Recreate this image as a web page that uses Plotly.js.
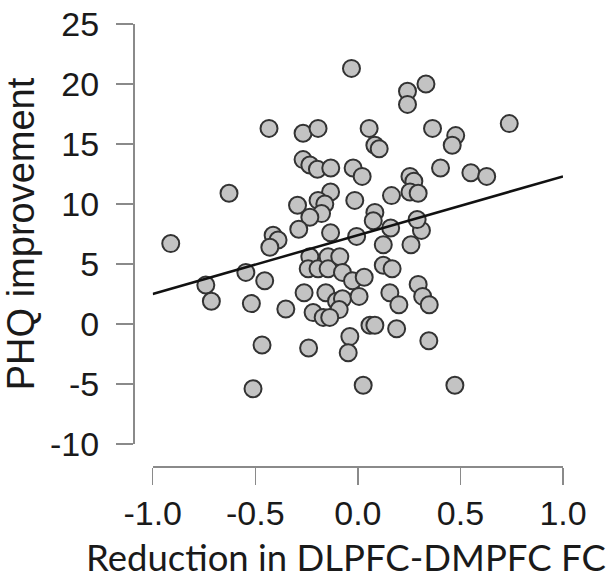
<!DOCTYPE html>
<html>
<head>
<meta charset="utf-8">
<script src="https://cdn.plot.ly/plotly-3.0.1.min.js"></script>
<style>html,body{margin:0;padding:0;background:#fff;}#chart{width:616px;height:583px;}</style>
</head>
<body>
<div id="chart"></div>
<script>
// Reduction in DLPFC-DMPFC FC (x) vs PHQ improvement (y)
const fcReduction = [
  -0.031, -0.433, -0.267, -0.194, 0.055, 0.083, 0.104, -0.267, -0.234, -0.197,
  -0.132, -0.023, 0.021, -0.628, -0.133, -0.194, -0.161, -0.177, -0.294, -0.234,
  -0.015, 0.083, 0.075, -0.288, -0.133, -0.006, -0.912, -0.413, -0.389, -0.429,
  -0.741, -0.714, -0.546, -0.454, -0.519, -0.351, -0.262, -0.234, -0.242, -0.194,
  -0.145, -0.145, -0.088, -0.075, -0.026, 0.031, -0.156, -0.104, -0.075, -0.091,
  -0.218, -0.169, -0.137, 0.006, 0.059, 0.083, -0.039, -0.047, -0.467, -0.240,
  -0.511, 0.026,
  0.310, 0.124, 0.259, 0.124, 0.167, 0.294, 0.316, 0.348, 0.156, 0.200,
  0.189, 0.346, 0.473,
  0.242, 0.242, 0.332, 0.364, 0.477, 0.460, 0.738, 0.254, 0.273, 0.254,
  0.294, 0.403, 0.551, 0.628, 0.164, 0.289, 0.160
];
const phqImprovement = [
  21.3, 16.3, 15.9, 16.3, 16.3, 14.9, 14.6, 13.7, 13.25, 12.9,
  13.0, 13.0, 12.3, 10.9, 11.0, 10.3, 10.0, 9.2, 9.9, 8.9,
  10.3, 9.3, 8.6, 7.9, 7.6, 7.3, 6.7, 7.4, 7.0, 6.4,
  3.25, 1.9, 4.3, 3.6, 1.7, 1.25, 2.6, 5.6, 4.6, 4.6,
  5.6, 4.6, 5.6, 4.3, 3.6, 3.9, 2.6, 1.9, 2.1, 1.2,
  0.95, 0.55, 0.55, 2.3, -0.1, -0.1, -1.05, -2.4, -1.75, -2.0,
  -5.4, -5.1,
  7.8, 6.6, 6.6, 4.9, 4.6, 3.3, 2.3, 1.6, 2.6, 1.6,
  -0.4, -1.4, -5.1,
  19.4, 18.3, 20.0, 16.3, 15.7, 14.9, 16.7, 12.3, 11.9, 11.0,
  10.9, 13.0, 12.6, 12.3, 10.7, 8.7, 8.0
];
// Fitted regression line end points
const fitX = [-1.0, 1.0];
const fitY = [2.5, 12.3];

const xTickVals = [-1.0, -0.5, 0.0, 0.5, 1.0];
const xTickText = ['-1.0', '-0.5', '0.0', '0.5', '1.0'];
const yTickVals = [-10, -5, 0, 5, 10, 15, 20, 25];
const yTickText = ['-10', '-5', '0', '5', '10', '15', '20', '25'];
const xTitle = 'Reduction in DLPFC-DMPFC FC';
const yTitle = 'PHQ improvement';

const traces = [
  {
    type: 'scatter', mode: 'markers', x: fcReduction, y: phqImprovement,
    marker: {size: 17, color: '#c3c3c3', line: {color: '#333333', width: 2}},
    hoverinfo: 'x+y', showlegend: false
  },
  {
    type: 'scatter', mode: 'lines', x: fitX, y: fitY,
    line: {color: '#111111', width: 2.5}, hoverinfo: 'skip', showlegend: false
  }
];

const axisCommon = {
  showgrid: false, zeroline: false, showline: true,
  linecolor: '#8a8a8a', linewidth: 1.5,
  ticks: 'outside', ticklen: 17, tickwidth: 1.5, tickcolor: '#8a8a8a',
  tickfont: {family: 'Liberation Sans, Arial, sans-serif', size: 34, color: '#1a1a1a'},
  anchor: 'free', position: 0, fixedrange: true
};

const layout = {
  width: 616, height: 583,
  margin: {l: 133, r: 53, t: 24, b: 117, pad: 0},
  paper_bgcolor: '#ffffff', plot_bgcolor: '#ffffff',
  showlegend: false,
  xaxis: Object.assign({}, axisCommon, {
    domain: [0.0458, 1], range: [-1, 1],
    tickvals: xTickVals, ticktext: xTickText, ticklabelstandoff: 0
  }),
  yaxis: Object.assign({}, axisCommon, {
    domain: [0.0498, 1], range: [-10, 25],
    tickvals: yTickVals, ticktext: yTickText, ticklabelstandoff: 10,
    title: {text: yTitle, standoff: 5,
            font: {family: 'Liberation Sans, Arial, sans-serif', size: 38, color: '#1a1a1a'}}
  }),
  annotations: [{
    text: xTitle, xref: 'paper', yref: 'paper', x: 0.495, y: -0.205,
    xanchor: 'center', yanchor: 'middle', showarrow: false,
    font: {family: 'Lato, Open Sans, sans-serif', size: 36.5, color: '#1a1a1a'}
  }]
};

Plotly.newPlot('chart', traces, layout, {displayModeBar: false, staticPlot: true});
</script>
</body>
</html>
